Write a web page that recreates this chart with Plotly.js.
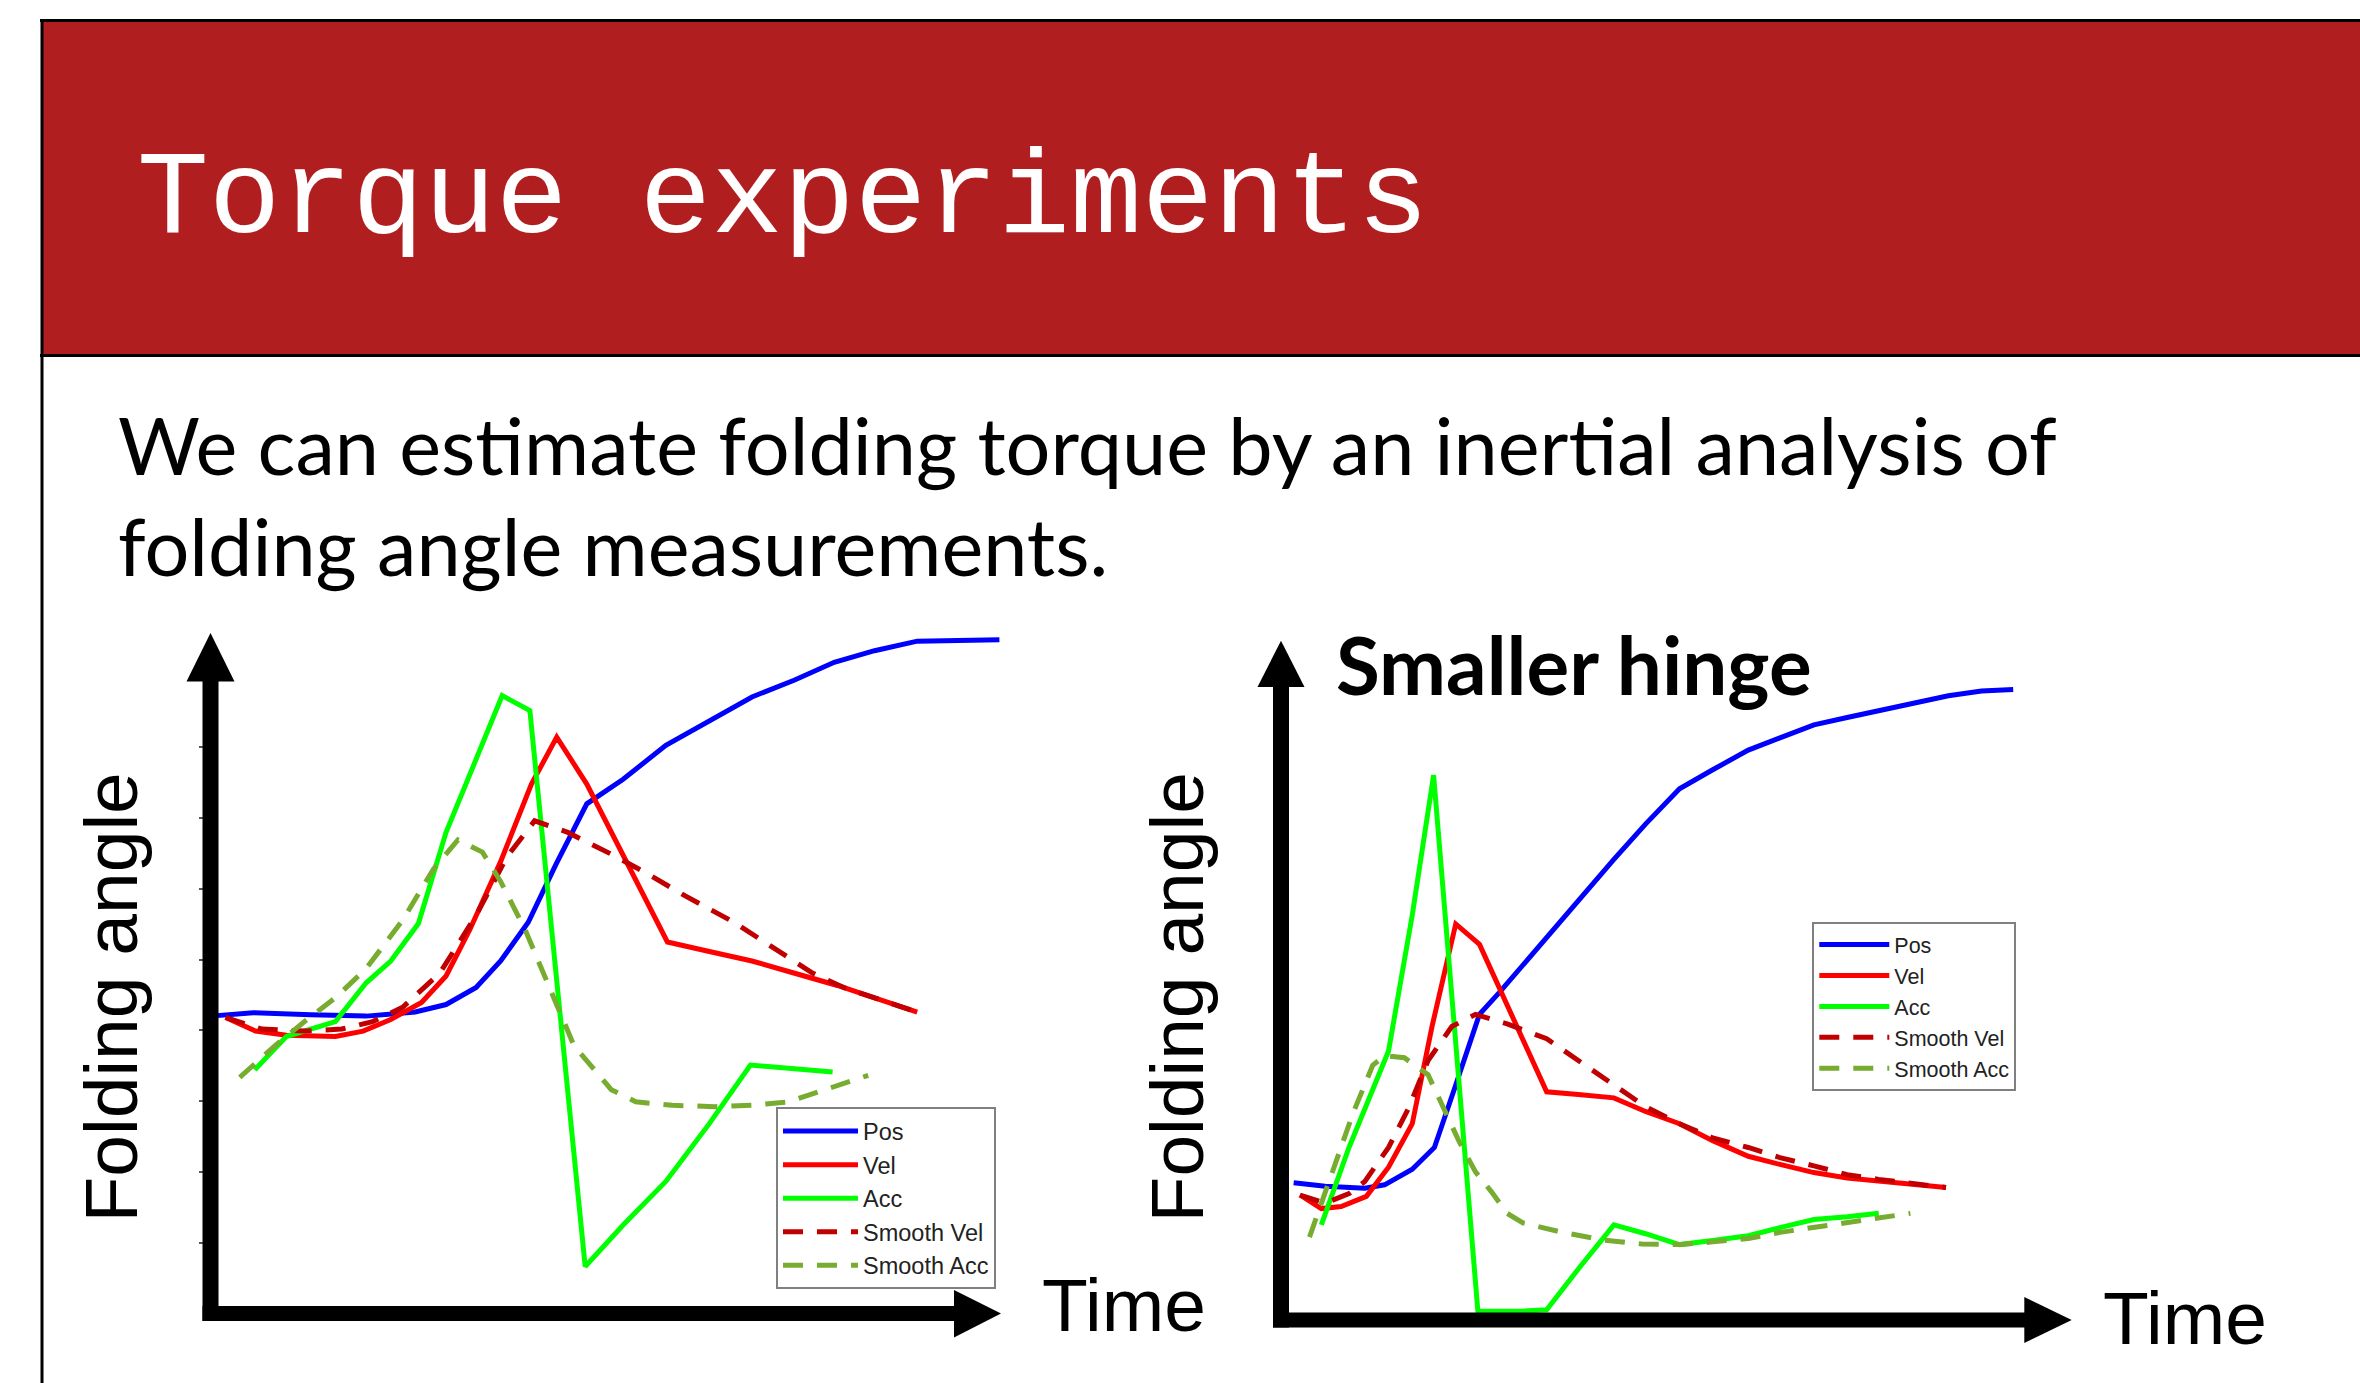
<!DOCTYPE html>
<html>
<head>
<meta charset="utf-8">
<script src="https://cdn.plot.ly/plotly-3.0.1.min.js"></script>
<style>
html,body{margin:0;padding:0;background:#fff;overflow:hidden;}
#chart{width:2360px;height:1383px;}
</style>
</head>
<body>
<div id="chart"></div>
<script>
// ---------- data (time in % of axis length, value in % of axis height) ----------
const seriesNames = ["Pos", "Vel", "Acc", "Smooth Vel", "Smooth Acc"];

// Left chart (original hinge)
const L_pos_t  = [0, 5.4, 12.7, 19.7, 25.9, 29.8, 33.6, 36.7, 40.2, 43.7, 47.6, 52.2, 57.6, 63.1, 68.5, 73.9, 78.9, 84.0, 89.4, 99.8];
const L_pos_v  = [43.7, 44.2, 43.9, 43.7, 44.3, 45.4, 47.9, 51.8, 57.5, 66.0, 74.9, 78.5, 83.5, 87.0, 90.6, 93.1, 95.7, 97.4, 98.8, 99.0];
const L_vel_t  = [1.9, 5.7, 9.6, 15.8, 19.3, 22.8, 26.7, 29.8, 32.8, 36.7, 40.6, 43.8, 47.6, 50.7, 53.8, 57.8, 63.1, 68.5, 73.9, 79.3, 89.4];
const L_vel_v  = [43.5, 41.5, 40.9, 40.7, 41.5, 43.2, 45.7, 49.6, 56.4, 66.4, 77.8, 84.7, 77.8, 70.7, 63.5, 54.6, 53.2, 51.8, 50.0, 48.2, 44.3];
const L_acc_t  = [5.6, 9.6, 15.8, 19.7, 22.8, 26.3, 29.8, 33.6, 36.9, 40.4, 47.4, 52.2, 57.6, 63.1, 68.3, 78.7];
const L_acc_v  = [35.8, 40.7, 42.9, 48.6, 51.8, 57.3, 70.7, 81.3, 90.8, 88.6, 6.9, 13.0, 19.4, 27.9, 36.5, 35.5];
const L_svel_t = [1.9, 6.5, 11.9, 16.6, 20.5, 24.3, 29.0, 33.6, 37.5, 41.0, 45.2, 50.7, 55.3, 60.0, 66.2, 72.3, 76.2, 80.1, 84.7, 89.4];
const L_svel_v = [43.5, 41.8, 41.5, 41.8, 42.9, 45.0, 50.0, 58.5, 67.1, 72.4, 70.7, 67.5, 64.6, 61.4, 57.5, 52.9, 50.0, 47.9, 46.1, 44.3];
const L_sacc_t = [3.7, 8.1, 11.9, 15.8, 19.7, 24.3, 28.2, 31.3, 34.4, 36.7, 39.8, 42.9, 46.0, 50.7, 53.8, 58.4, 63.8, 68.5, 73.1, 77.0, 83.2];
const L_sacc_v = [34.7, 39.3, 42.9, 46.4, 50.7, 57.8, 65.3, 69.6, 67.8, 63.5, 56.4, 47.9, 39.3, 32.9, 31.1, 30.6, 30.4, 30.6, 31.1, 32.6, 35.0];
const L_ytickvals = [10.4, 20.8, 31.2, 41.6, 52.0, 62.4, 72.8, 83.2];

// Right chart (smaller hinge)
const R_pos_t  = [1.6, 5.6, 10.6, 13.1, 16.6, 19.4, 22.1, 25.1, 27.6, 33.6, 37.6, 42.1, 46.1, 50.4, 54.6, 59.1, 63.1, 67.4, 71.6, 75.6, 80.1, 84.4, 88.6, 92.6];
const R_pos_v  = [20.2, 19.7, 19.4, 19.9, 22.2, 25.4, 34.6, 45.0, 48.2, 56.4, 61.8, 67.8, 73.0, 78.2, 81.0, 83.9, 85.7, 87.6, 88.7, 89.7, 90.9, 91.9, 92.6, 92.8];
const R_vel_t  = [2.4, 5.1, 7.6, 10.8, 13.6, 16.6, 19.1, 22.1, 25.1, 27.6, 30.6, 33.6, 37.6, 42.1, 46.1, 50.4, 54.6, 59.1, 63.1, 67.4, 71.6, 75.6, 80.1, 84.1];
const R_vel_v  = [18.4, 16.4, 16.7, 18.2, 22.5, 28.9, 43.2, 58.3, 55.3, 48.9, 41.1, 33.6, 33.2, 32.7, 30.7, 28.9, 26.4, 24.1, 22.9, 21.7, 20.9, 20.4, 20.0, 19.5];
const R_acc_t  = [5.1, 8.6, 13.6, 16.6, 19.3, 24.9, 30.6, 33.6, 37.6, 42.1, 46.1, 50.4, 54.6, 59.1, 63.1, 67.4, 71.6, 75.6];
const R_acc_v  = [14.0, 25.4, 39.6, 59.6, 80.2, 1.3, 1.3, 1.5, 7.5, 14.0, 12.7, 11.1, 11.7, 12.4, 13.6, 14.8, 15.2, 15.7];
const R_svel_t = [2.4, 5.6, 8.6, 10.6, 13.6, 16.1, 18.6, 21.6, 24.6, 28.6, 33.6, 37.6, 42.1, 46.1, 50.4, 54.6, 59.1, 63.1, 67.4, 71.6, 75.6, 80.1, 84.1];
const R_svel_v = [18.4, 17.2, 18.6, 20.4, 25.4, 31.1, 38.2, 43.2, 45.0, 43.6, 41.4, 38.2, 34.6, 31.4, 28.9, 26.8, 25.4, 23.9, 22.7, 21.4, 20.7, 20.0, 19.5];
const R_sacc_t = [3.6, 6.1, 9.1, 11.6, 13.1, 15.6, 18.6, 20.6, 22.6, 24.6, 26.6, 28.6, 30.6, 35.6, 40.6, 45.6, 50.6, 54.6, 59.1, 63.1, 67.4, 71.6, 75.6, 79.6];
const R_sacc_v = [12.2, 20.4, 30.4, 37.5, 38.9, 38.6, 36.1, 31.1, 26.1, 21.8, 18.9, 15.7, 14.3, 12.9, 11.8, 11.2, 11.1, 11.5, 12.0, 12.9, 13.6, 14.3, 15.0, 15.7];

// ---------- page geometry helpers ----------
const W = 2360, H = 1383;
const px = x => x / W;
const py = y => 1 - y / H;

const colors = ["#0000FF", "#FF0000", "#00FF00", "#C00000", "#77AC30"];
const dashes = ["solid", "solid", "solid", "20px,14px", "20px,14px"];

function mk(i, t, v, xa, ya, leg) {
  return {
    type: "scatter", mode: "lines", name: seriesNames[i],
    x: t, y: v, xaxis: xa, yaxis: ya, legend: leg,
    line: {color: colors[i], width: 5, dash: dashes[i]},
    hoverinfo: "skip"
  };
}

const data = [
  mk(0, L_pos_t, L_pos_v, "x", "y", "legend"),
  mk(1, L_vel_t, L_vel_v, "x", "y", "legend"),
  mk(2, L_acc_t, L_acc_v, "x", "y", "legend"),
  mk(3, L_svel_t, L_svel_v, "x", "y", "legend"),
  mk(4, L_sacc_t, L_sacc_v, "x", "y", "legend"),
  mk(0, R_pos_t, R_pos_v, "x2", "y2", "legend2"),
  mk(1, R_vel_t, R_vel_v, "x2", "y2", "legend2"),
  mk(2, R_acc_t, R_acc_v, "x2", "y2", "legend2"),
  mk(3, R_svel_t, R_svel_v, "x2", "y2", "legend2"),
  mk(4, R_sacc_t, R_sacc_v, "x2", "y2", "legend2")
];

const hiddenAxis = {
  showgrid: false, zeroline: false, showline: false, showticklabels: false,
  ticks: "", fixedrange: true
};

// arrow axes as shapes (page pixel -> paper)
function rect(x0, y0, x1, y1, color, layer) {
  return {type: "rect", xref: "paper", yref: "paper",
    x0: px(x0), x1: px(x1), y0: py(y0), y1: py(y1),
    fillcolor: color, line: {width: 0}, layer: layer || "above"};
}
function tri(ax, ay, bx, by, cx, cy) {
  return {type: "path", xref: "paper", yref: "paper",
    path: `M${px(ax)},${py(ay)} L${px(bx)},${py(by)} L${px(cx)},${py(cy)} Z`,
    fillcolor: "#000", line: {width: 0}, layer: "above"};
}

const shapes = [
  // banner
  rect(42, 21.5, W, 354.5, "#B11E20", "below"),
  rect(40, 19, W, 22, "#000", "below"),
  rect(40, 354, W, 357, "#000", "below"),
  rect(40.5, 19, 43.5, H, "#000", "below"),
  // left axes
  rect(202.5, 681, 218.5, 1321, "#000"),
  rect(202.5, 1306, 955, 1321, "#000"),
  tri(210.5, 633, 186.5, 681.5, 234.5, 681.5),
  tri(1001, 1313.5, 954, 1290, 954, 1337.5),
  // right axes
  rect(1273, 686, 1289, 1327.5, "#000"),
  rect(1273, 1312.5, 2025, 1327.5, "#000"),
  tri(1281, 640.7, 1257.5, 687, 1304.5, 687),
  tri(2071.7, 1320, 2024.3, 1297, 2024.3, 1343)
];

const ann = (text, x, y, size, family, opts) => Object.assign({
  text: text, xref: "paper", yref: "paper", x: x, y: y,
  showarrow: false, xanchor: "left", yanchor: "middle",
  font: {family: family, size: size, color: "#000"}
}, opts || {});

const annotations = [
  ann("Torque experiments", px(135), py(231.7 - 0.2665 * 119.6), 119.6, "Liberation Mono", {font: {family: "Liberation Mono", size: 119.6, color: "#FFFFFF"}}),
  ann("We can estimate folding torque by an inertial analysis of", px(116), py(475 - 0.387 * 79.2), 79.2, "Lato"),
  ann("folding angle measurements.", px(116), py(576 - 0.387 * 79.2), 79.2, "Lato"),
  ann("Folding angle", px(136.5 - 0.3465 * 75), py(998), 75, "Liberation Sans", {textangle: -90, xanchor: "center"}),
  ann("Time", px(1040), py(1331 - 0.3465 * 75), 75, "Liberation Sans"),
  ann("Folding angle", px(1203 - 0.3465 * 75), py(997.4), 75, "Liberation Sans", {textangle: -90, xanchor: "center"}),
  ann("Time", px(2101), py(1344 - 0.3465 * 75), 75, "Liberation Sans"),
  ann("<b>Smaller hinge</b>", px(1334), py(694.5 - 0.387 * 80), 80, "Lato")
];

const legendBase = {
  bgcolor: "#FFFFFF", bordercolor: "#808080", borderwidth: 2,
  xanchor: "left", yanchor: "top", xref: "paper", yref: "paper",
  traceorder: "normal", itemclick: false, itemdoubleclick: false
};

const layout = {
  width: W, height: H,
  margin: {l: 0, r: 0, t: 0, b: 0, pad: 0},
  paper_bgcolor: "#FFFFFF", plot_bgcolor: "rgba(0,0,0,0)",
  showlegend: true,
  xaxis: Object.assign({}, hiddenAxis, {domain: [px(210.5), px(1001)], range: [0, 100]}),
  yaxis: Object.assign({}, hiddenAxis, {domain: [py(1313.5), py(633)], range: [0, 100],
    ticks: "outside", ticklen: 11, tickwidth: 2, tickcolor: "#555", tickmode: "array", tickvals: L_ytickvals}),
  xaxis2: Object.assign({}, hiddenAxis, {domain: [px(1281), px(2071.7)], range: [0, 100], anchor: "y2"}),
  yaxis2: Object.assign({}, hiddenAxis, {domain: [py(1320), py(640.7)], range: [0, 100], anchor: "x2"}),
  legend: Object.assign({}, legendBase, {x: px(776), y: py(1107.3), itemwidth: 75,
    font: {family: "Liberation Sans", size: 23.5, color: "#222"}}),
  legend2: Object.assign({}, legendBase, {x: px(1812.3), y: py(922), itemwidth: 70,
    font: {family: "Liberation Sans", size: 21.5, color: "#222"}}),
  shapes: shapes,
  annotations: annotations
};

Plotly.newPlot("chart", data, layout, {staticPlot: true, displayModeBar: false});
</script>
</body>
</html>
